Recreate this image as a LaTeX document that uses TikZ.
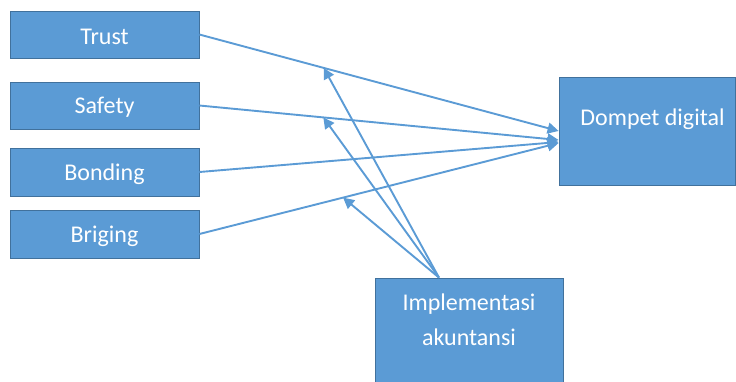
\documentclass[tikz,border=0pt]{standalone}
\usepackage{fontspec}
\setmainfont{Carlito}
\usetikzlibrary{arrows.meta,positioning}

\definecolor{boxblue}{HTML}{5B9BD5}
\definecolor{boxedge}{HTML}{41719C}

\begin{document}
\begin{tikzpicture}[
		x=1pt, y=-1pt,
		arrow/.style={draw=boxblue, line width=1.9pt, -{Triangle[length=11pt,width=11pt]}},
		block/.style={draw=boxedge, line width=0.8pt, fill=boxblue, text=white, align=center, inner sep=0pt},
		lbl/.style={text=white, align=center, font=\fontsize{24}{35}\selectfont},
	]
		\clip (0,0) rectangle (736,381);

		% factors on the left
		\node[block, minimum width=189pt, minimum height=47pt] (trust) at (104.5,34.5) {};
		\node[block, minimum width=189pt, minimum height=47pt] (safety) at (104.5,105.5) {};
		\node[block, minimum width=189pt, minimum height=48pt] (bonding) at (104.5,172) {};
		\node[block, minimum width=189pt, minimum height=48pt] (briging) at (104.5,234) {};
		\node[lbl, yshift=-2pt] at (trust) {Trust};
		\node[lbl, yshift=-2pt] at (safety) {Safety};
		\node[lbl, yshift=-2pt] at (bonding) {Bonding};
		\node[lbl, yshift=-2pt] at (briging) {Briging};

		% outcome and moderator
		\node[block, minimum width=176pt, minimum height=108pt] (dompet) at (647,131) {};
		\node[block, minimum width=188pt, minimum height=112pt] (impl) at (469,334) {};
		\path (dompet.north) ++(5.5,43) node[lbl] (dompet-lbl) {Dompet digital};
		\path (impl.north) ++(0,42) node[lbl] (impl-lbl) {Implementasi\\akuntansi};

		\path (dompet.west) ++(0,9) coordinate (d2);
		\path (dompet.west) ++(0,11) coordinate (d3);
		\path (dompet.west) ++(0,12) coordinate (d4);
		\path (impl.north) ++(-30,0) coordinate (imp-top);

		\draw[arrow] (trust.east) -- coordinate[pos=0.346] (m1) (dompet.west);
		\draw[arrow] (safety.east) -- coordinate[pos=0.345] (m2) (d2);
		\draw[arrow] (bonding.east) -- (d3);
		\draw[arrow] (briging.east) -- coordinate[pos=0.40] (m4) (d4);

		\draw[arrow] (imp-top) -- (m1);
		\draw[arrow] (imp-top) -- (m2);
		\draw[arrow] (imp-top) -- (m4);
	\end{tikzpicture}
\end{document}
